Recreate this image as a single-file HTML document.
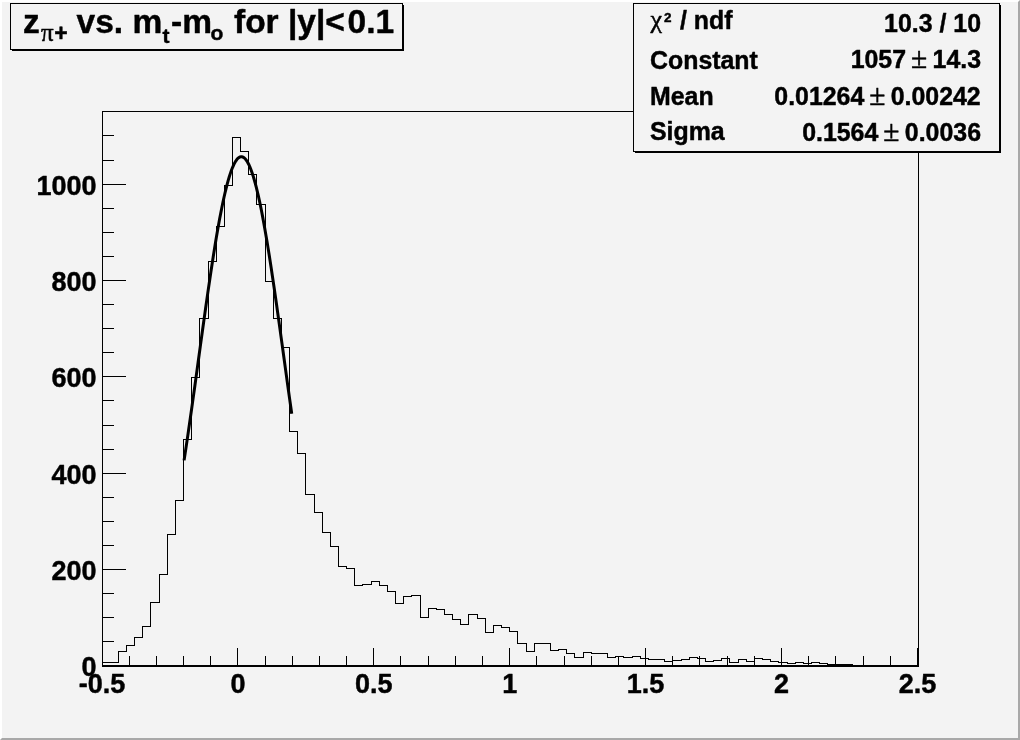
<!DOCTYPE html>
<html><head><meta charset="utf-8"><title>z pi+ vs. mt-mo</title>
<style>
html,body{margin:0;padding:0;background:#f3f3f3;}
svg{display:block;filter:grayscale(1)}
text{font-family:"Liberation Sans",sans-serif;font-weight:bold;fill:#000;stroke:#000;stroke-width:.45px;stroke-linejoin:round}
.t{opacity:.999}
.sym{font-family:"Liberation Serif",serif;font-weight:normal;stroke-width:.5px}
</style></head><body>
<svg width="1020" height="740" viewBox="0 0 1020 740">
<rect x="0" y="0" width="1020" height="740" fill="#f3f3f3"/>
<!-- bevel -->
<path d="M0 0 H1020 L1018 2 H2 V738 L0 740 Z" fill="#ffffff"/>
<path d="M1020 740 H0 L2 738 H1018 V2 L1020 0 Z" fill="#a8a8a8"/>
<g shape-rendering="crispEdges" fill="none" stroke="#000" stroke-width="1">
<rect x="102.5" y="111.5" width="816" height="555"/>
<path d="M102 665.5 H919"/>
<path d="M102.5 666 V648 M129.5 666 V656 M156.5 666 V656 M183.5 666 V656 M210.5 666 V656 M237.5 666 V648 M265.5 666 V656 M292.5 666 V656 M319.5 666 V656 M346.5 666 V656 M373.5 666 V648 M400.5 666 V656 M428.5 666 V656 M455.5 666 V656 M482.5 666 V656 M509.5 666 V648 M536.5 666 V656 M564.5 666 V656 M591.5 666 V656 M618.5 666 V656 M645.5 666 V648 M672.5 666 V656 M699.5 666 V656 M727.5 666 V656 M754.5 666 V656 M781.5 666 V648 M808.5 666 V656 M835.5 666 V656 M863.5 666 V656 M890.5 666 V656 M917.5 666 V648 M102 666.5 H126 M102 641.5 H114 M102 617.5 H114 M102 593.5 H114 M102 569.5 H126 M102 545.5 H114 M102 521.5 H114 M102 497.5 H114 M102 473.5 H126 M102 449.5 H114 M102 425.5 H114 M102 400.5 H114 M102 376.5 H126 M102 352.5 H114 M102 328.5 H114 M102 304.5 H114 M102 280.5 H126 M102 256.5 H114 M102 232.5 H114 M102 208.5 H114 M102 184.5 H126 M102 160.5 H114 M102 135.5 H114 M102 111.5 H114"/>
<path d="M102.5 666.5 L102.5 662.5 L110.5 662.5 L110.5 662.5 L118.5 662.5 L118.5 651.5 L126.5 651.5 L126.5 645.5 L134.5 645.5 L134.5 637.5 L142.5 637.5 L142.5 626.5 L150.5 626.5 L150.5 602.5 L159.5 602.5 L159.5 574.5 L167.5 574.5 L167.5 534.5 L175.5 534.5 L175.5 500.5 L183.5 500.5 L183.5 439.5 L191.5 439.5 L191.5 377.5 L199.5 377.5 L199.5 318.5 L208.5 318.5 L208.5 261.5 L216.5 261.5 L216.5 226.5 L224.5 226.5 L224.5 185.5 L232.5 185.5 L232.5 137.5 L240.5 137.5 L240.5 151.5 L248.5 151.5 L248.5 174.5 L256.5 174.5 L256.5 204.5 L265.5 204.5 L265.5 281.5 L273.5 281.5 L273.5 318.5 L281.5 318.5 L281.5 347.5 L289.5 347.5 L289.5 431.5 L297.5 431.5 L297.5 453.5 L305.5 453.5 L305.5 494.5 L314.5 494.5 L314.5 512.5 L322.5 512.5 L322.5 532.5 L330.5 532.5 L330.5 546.5 L338.5 546.5 L338.5 566.5 L346.5 566.5 L346.5 568.5 L354.5 568.5 L354.5 585.5 L362.5 585.5 L362.5 584.5 L371.5 584.5 L371.5 581.5 L379.5 581.5 L379.5 585.5 L387.5 585.5 L387.5 591.5 L395.5 591.5 L395.5 603.5 L403.5 603.5 L403.5 596.5 L411.5 596.5 L411.5 595.5 L420.5 595.5 L420.5 617.5 L428.5 617.5 L428.5 608.5 L436.5 608.5 L436.5 609.5 L444.5 609.5 L444.5 614.5 L452.5 614.5 L452.5 619.5 L460.5 619.5 L460.5 624.5 L468.5 624.5 L468.5 614.5 L477.5 614.5 L477.5 618.5 L485.5 618.5 L485.5 632.5 L493.5 632.5 L493.5 625.5 L501.5 625.5 L501.5 627.5 L509.5 627.5 L509.5 631.5 L517.5 631.5 L517.5 643.5 L526.5 643.5 L526.5 651.5 L534.5 651.5 L534.5 643.5 L542.5 643.5 L542.5 643.5 L550.5 643.5 L550.5 650.5 L558.5 650.5 L558.5 649.5 L566.5 649.5 L566.5 653.5 L574.5 653.5 L574.5 657.5 L583.5 657.5 L583.5 652.5 L591.5 652.5 L591.5 653.5 L599.5 653.5 L599.5 653.5 L607.5 653.5 L607.5 657.5 L615.5 657.5 L615.5 656.5 L623.5 656.5 L623.5 657.5 L632.5 657.5 L632.5 656.5 L640.5 656.5 L640.5 658.5 L648.5 658.5 L648.5 659.5 L656.5 659.5 L656.5 659.5 L664.5 659.5 L664.5 661.5 L672.5 661.5 L672.5 660.5 L681.5 660.5 L681.5 659.5 L689.5 659.5 L689.5 657.5 L697.5 657.5 L697.5 658.5 L705.5 658.5 L705.5 661.5 L713.5 661.5 L713.5 660.5 L721.5 660.5 L721.5 658.5 L729.5 658.5 L729.5 662.5 L738.5 662.5 L738.5 659.5 L746.5 659.5 L746.5 661.5 L754.5 661.5 L754.5 658.5 L762.5 658.5 L762.5 659.5 L770.5 659.5 L770.5 661.5 L778.5 661.5 L778.5 662.5 L787.5 662.5 L787.5 663.5 L795.5 663.5 L795.5 662.5 L803.5 662.5 L803.5 663.5 L811.5 663.5 L811.5 662.5 L819.5 662.5 L819.5 663.5 L827.5 663.5 L827.5 664.5 L835.5 664.5 L835.5 664.5 L844.5 664.5 L844.5 664.5 L852.5 664.5 L852.5 666.5 L860.5 666.5 L860.5 666.5 L868.5 666.5 L868.5 666.5 L876.5 666.5 L876.5 666.5 L884.5 666.5 L884.5 666.5 L893.5 666.5 L893.5 666.5 L901.5 666.5 L901.5 666.5 L909.5 666.5 L909.5 666.5 L917.5 666.5 L918.5 666.5"/>
</g>
<path d="M184.08 460.37 L185.16 453.30 L186.24 446.14 L187.31 438.87 L188.39 431.52 L189.47 424.09 L190.54 416.57 L191.62 409.00 L192.69 401.36 L193.77 393.66 L194.85 385.93 L195.92 378.16 L197.00 370.36 L198.08 362.55 L199.15 354.73 L200.23 346.91 L201.30 339.10 L202.38 331.32 L203.46 323.58 L204.53 315.88 L205.61 308.23 L206.69 300.65 L207.76 293.15 L208.84 285.75 L209.92 278.44 L210.99 271.24 L212.07 264.17 L213.14 257.24 L214.22 250.45 L215.30 243.82 L216.37 237.36 L217.45 231.08 L218.53 224.99 L219.60 219.10 L220.68 213.42 L221.76 207.96 L222.83 202.74 L223.91 197.75 L224.98 193.02 L226.06 188.54 L227.14 184.33 L228.21 180.40 L229.29 176.75 L230.37 173.38 L231.44 170.31 L232.52 167.54 L233.59 165.08 L234.67 162.92 L235.75 161.08 L236.82 159.56 L237.90 158.36 L238.98 157.49 L240.05 156.93 L241.13 156.71 L242.21 156.81 L243.28 157.24 L244.36 157.99 L245.43 159.06 L246.51 160.46 L247.59 162.18 L248.66 164.21 L249.74 166.56 L250.82 169.21 L251.89 172.17 L252.97 175.42 L254.04 178.96 L255.12 182.79 L256.20 186.90 L257.27 191.27 L258.35 195.91 L259.43 200.80 L260.50 205.93 L261.58 211.30 L262.66 216.89 L263.73 222.70 L264.81 228.71 L265.88 234.92 L266.96 241.32 L268.04 247.88 L269.11 254.61 L270.19 261.49 L271.27 268.51 L272.34 275.66 L273.42 282.93 L274.50 290.30 L275.57 297.76 L276.65 305.31 L277.72 312.93 L278.80 320.61 L279.88 328.34 L280.95 336.11 L282.03 343.91 L283.11 351.72 L284.18 359.54 L285.26 367.36 L286.33 375.17 L287.41 382.95 L288.49 390.70 L289.56 398.41 L290.64 406.07 L291.72 413.67" fill="none" stroke="#000" stroke-width="3" stroke-linejoin="round"/>
<g font-size="27" class="t"><text x="102.0" y="693" text-anchor="middle">-0.5</text><text x="237.9" y="693" text-anchor="middle">0</text><text x="373.8" y="693" text-anchor="middle">0.5</text><text x="509.7" y="693" text-anchor="middle">1</text><text x="645.6" y="693" text-anchor="middle">1.5</text><text x="781.5" y="693" text-anchor="middle">2</text><text x="917.4" y="693" text-anchor="middle">2.5</text><text x="96.5" y="676.3" text-anchor="end">0</text><text x="96.5" y="579.9" text-anchor="end">200</text><text x="96.5" y="483.6" text-anchor="end">400</text><text x="96.5" y="387.2" text-anchor="end">600</text><text x="96.5" y="290.8" text-anchor="end">800</text><text x="96.5" y="194.5" text-anchor="end">1000</text></g>
<!-- title -->
<g shape-rendering="crispEdges">
<rect x="12" y="5" width="392" height="46" fill="#000"/>
<rect x="10.5" y="3.5" width="392" height="46" fill="#f3f3f3" stroke="#000"/>
</g>
<g font-size="33.5" class="t">
<text x="23" y="33">z</text>
<text x="41" y="41" font-size="25" class="sym">π</text>
<text x="54.3" y="41" font-size="23">+</text>
<text x="76.5" y="33">vs. m</text>
<text x="162.5" y="43" font-size="21">t</text>
<text x="171" y="33">-m</text>
<text x="210.5" y="40" font-size="21">o</text>
<text x="234" y="33">for |y|&lt;</text>
<text x="347.5" y="33">0.1</text>
</g>
<!-- stats -->
<g shape-rendering="crispEdges">
<rect x="635" y="5" width="366" height="148" fill="#000"/>
<rect x="633.5" y="3.5" width="366" height="148" fill="#f3f3f3" stroke="#000"/>
</g>
<g font-size="24.9" class="t">
<text x="650.5" y="27.5" class="sym" font-size="26">χ</text>
<text x="664" y="22.4" font-size="13.5">2</text>
<text x="680" y="28.6">/ ndf</text>
<text x="981" y="32" text-anchor="end">10.3 / 10</text>
<text x="650" y="68.5">Constant</text>
<text x="906" y="68" text-anchor="end">1057</text><text x="911" y="68" class="sym" font-size="29.5">±</text><text x="981" y="68" text-anchor="end">14.3</text>
<text x="650" y="104.7">Mean</text>
<text x="864.3" y="104.5" text-anchor="end">0.01264</text><text x="869.3" y="104.5" class="sym" font-size="29.5">±</text><text x="980.7" y="104.5" text-anchor="end">0.00242</text>
<text x="650" y="139.5">Sigma</text>
<text x="878.3" y="140.7" text-anchor="end">0.1564</text><text x="883.3" y="140.7" class="sym" font-size="29.5">±</text><text x="981" y="140.7" text-anchor="end">0.0036</text>
</g>
</svg>
</body></html>
